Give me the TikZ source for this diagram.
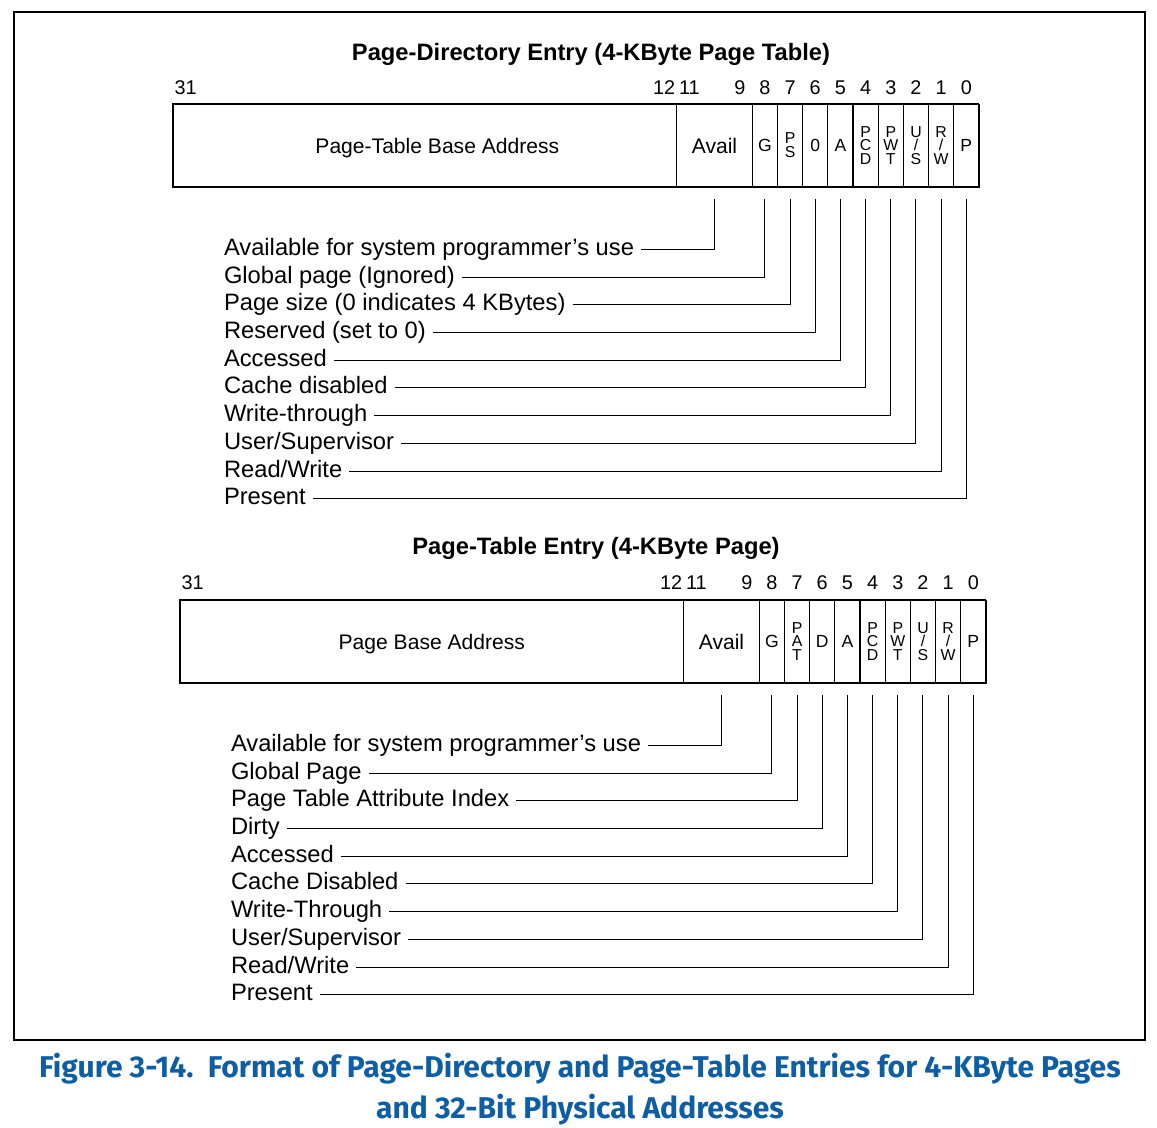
\documentclass[tikz,border=0pt]{standalone}
\usepackage{fontspec}
\setmainfont{Liberation Sans}
\newfontfamily\capfont{Fira Sans}
\usepackage{xcolor}
\usepackage{tikz}
\usetikzlibrary{positioning, calc}
\definecolor{captionblue}{RGB}{14,94,166}
\newcommand{\bw}{0.5038cm}

\begin{document}
\begin{tikzpicture}[
    x=0.02cm, y=-0.02cm,
    field/.style={draw, line width=0.6pt, minimum height=1.66cm, inner sep=0pt, outer sep=0pt, font=\fontsize{12}{14}\selectfont},
    bitcell/.style={field, minimum width=\bw, font=\fontsize{10}{12}\selectfont},
    stackcell/.style={field, minimum width=\bw, align=center, font=\fontsize{9}{7.8}\selectfont},
    rimline/.style={line width=1.1pt},
    bitnum/.style={anchor=base, font=\fontsize{11.3}{13}\selectfont},
    heading/.style={anchor=base, font=\fontsize{13.5}{16}\selectfont\bfseries},
    lbl/.style={anchor=west, font=\fontsize{13.5}{16}\selectfont, text height=7pt, text depth=0pt, inner sep=0pt, outer xsep=4pt},
    leader/.style={line width=0.6pt},
    caption/.style={anchor=base, text=captionblue, font=\capfont\bfseries\fontsize{17.1}{20}\selectfont}
]
    \useasboundingbox (0,0) rectangle (1157,1128);

    % Frame
    \draw[line width=0.7pt] (14,12) rectangle (1145,1040);
    \draw[line width=1.3pt] (14,1040) -- (1145,1040) -- (1145,12);

    % Page-directory entry
    \begin{scope}[shift={(173,104)}]
    \node[heading] (pdeTitle) at (418,-43) {Page-Directory Entry (4-KByte Page Table)};

    \node[field, text depth=0pt, minimum width=20*\bw, anchor=north west] (pdeBase) at (0,0) {\hspace{0.5cm}Page-Table Base Address};
    \node[field, minimum width=3*\bw, right=0pt of pdeBase] (pdeAvail) {Avail};
    \node[bitcell, right=0pt of pdeAvail] (pdeG) {G};
    \node[stackcell, right=0pt of pdeG] (pdePS) {P\\S};
    \node[bitcell, right=0pt of pdePS] (pdeZero) {0};
    \node[bitcell, right=0pt of pdeZero] (pdeA) {A};
    \node[stackcell, right=0pt of pdeA] (pdePCD) {P\\C\\D};
    \node[stackcell, right=0pt of pdePCD] (pdePWT) {P\\W\\T};
    \node[stackcell, right=0pt of pdePWT] (pdeUS) {U\\/\\S};
    \node[stackcell, right=0pt of pdeUS] (pdeRW) {R\\/\\W};
    \node[bitcell, right=0pt of pdeRW] (pdeP) {P};
    \draw[rimline] (pdeBase.north west) -- (pdeBase.south west) -- (pdeP.south east) -- (pdeP.north east);

    % Bit numbers
    \node[bitnum] (pdeB31) at (12.6,-9) {31};
    \node[bitnum] (pdeB12) at (491.2,-9) {12};
    \node[bitnum] (pdeB11) at (516.4,-9) {11};
    \node[bitnum] (pdeB9) at (566.8,-9) {9};
    \node[bitnum] (pdeB8) at (pdeG |- pdeB31.base) {8};
    \node[bitnum] (pdeB7) at (pdePS |- pdeB31.base) {7};
    \node[bitnum] (pdeB6) at (pdeZero |- pdeB31.base) {6};
    \node[bitnum] (pdeB5) at (pdeA |- pdeB31.base) {5};
    \node[bitnum] (pdeB4) at (pdePCD |- pdeB31.base) {4};
    \node[bitnum] (pdeB3) at (pdePWT |- pdeB31.base) {3};
    \node[bitnum] (pdeB2) at (pdeUS |- pdeB31.base) {2};
    \node[bitnum] (pdeB1) at (pdeRW |- pdeB31.base) {1};
    \node[bitnum] (pdeB0) at (pdeP |- pdeB31.base) {0};

    % Field descriptions
    \node[lbl] (pdeL1) at (44,145.5) {Available for system programmer’s use};
    \node[lbl] (pdeL2) at (44,173.5) {Global page (Ignored)};
    \node[lbl] (pdeL3) at (44,200.5) {Page size (0 indicates 4 KBytes)};
    \node[lbl] (pdeL4) at (44,228.5) {Reserved (set to 0)};
    \node[lbl] (pdeL5) at (44,256.5) {Accessed};
    \node[lbl] (pdeL6) at (44,283.5) {Cache disabled};
    \node[lbl] (pdeL7) at (44,311.5) {Write-through};
    \node[lbl] (pdeL8) at (44,339.5) {User/Supervisor};
    \node[lbl] (pdeL9) at (44,367.5) {Read/Write};
    \node[lbl] (pdeL10) at (44,394.5) {Present};

    \draw[leader] (pdeL1.east) -| ([yshift=-0.24cm]pdeAvail.south);
    \draw[leader] (pdeL2.east) -| ([yshift=-0.24cm]pdeG.south);
    \draw[leader] (pdeL3.east) -| ([yshift=-0.24cm]pdePS.south);
    \draw[leader] (pdeL4.east) -| ([yshift=-0.24cm]pdeZero.south);
    \draw[leader] (pdeL5.east) -| ([yshift=-0.24cm]pdeA.south);
    \draw[leader] (pdeL6.east) -| ([yshift=-0.24cm]pdePCD.south);
    \draw[leader] (pdeL7.east) -| ([yshift=-0.24cm]pdePWT.south);
    \draw[leader] (pdeL8.east) -| ([yshift=-0.24cm]pdeUS.south);
    \draw[leader] (pdeL9.east) -| ([yshift=-0.24cm]pdeRW.south);
    \draw[leader] (pdeL10.east) -| ([yshift=-0.24cm]pdeP.south);
    \end{scope}

    % Page-table entry
    \begin{scope}[shift={(180,600)}]
    \node[heading] (pteTitle) at (416,-45) {Page-Table Entry (4-KByte Page)};

    \node[field, text depth=0pt, minimum width=20*\bw, anchor=north west] (pteBase) at (0,0) {Page Base Address};
    \node[field, minimum width=3*\bw, right=0pt of pteBase] (pteAvail) {Avail};
    \node[bitcell, right=0pt of pteAvail] (pteG) {G};
    \node[stackcell, right=0pt of pteG] (ptePAT) {P\\A\\T};
    \node[bitcell, right=0pt of ptePAT] (pteD) {D};
    \node[bitcell, right=0pt of pteD] (pteA) {A};
    \node[stackcell, right=0pt of pteA] (ptePCD) {P\\C\\D};
    \node[stackcell, right=0pt of ptePCD] (ptePWT) {P\\W\\T};
    \node[stackcell, right=0pt of ptePWT] (pteUS) {U\\/\\S};
    \node[stackcell, right=0pt of pteUS] (pteRW) {R\\/\\W};
    \node[bitcell, right=0pt of pteRW] (pteP) {P};
    \draw[rimline] (pteBase.north west) -- (pteBase.south west) -- (pteP.south east) -- (pteP.north east);

    % Bit numbers
    \node[bitnum] (pteB31) at (12.6,-10) {31};
    \node[bitnum] (pteB12) at (491.2,-10) {12};
    \node[bitnum] (pteB11) at (516.4,-10) {11};
    \node[bitnum] (pteB9) at (566.8,-10) {9};
    \node[bitnum] (pteB8) at (pteG |- pteB31.base) {8};
    \node[bitnum] (pteB7) at (ptePAT |- pteB31.base) {7};
    \node[bitnum] (pteB6) at (pteD |- pteB31.base) {6};
    \node[bitnum] (pteB5) at (pteA |- pteB31.base) {5};
    \node[bitnum] (pteB4) at (ptePCD |- pteB31.base) {4};
    \node[bitnum] (pteB3) at (ptePWT |- pteB31.base) {3};
    \node[bitnum] (pteB2) at (pteUS |- pteB31.base) {2};
    \node[bitnum] (pteB1) at (pteRW |- pteB31.base) {1};
    \node[bitnum] (pteB0) at (pteP |- pteB31.base) {0};

    % Field descriptions
    \node[lbl] (pteL1) at (44,145.5) {Available for system programmer’s use};
    \node[lbl] (pteL2) at (44,173.5) {Global Page};
    \node[lbl] (pteL3) at (44,200.5) {Page Table Attribute Index};
    \node[lbl] (pteL4) at (44,228.5) {Dirty};
    \node[lbl] (pteL5) at (44,256.5) {Accessed};
    \node[lbl] (pteL6) at (44,283.5) {Cache Disabled};
    \node[lbl] (pteL7) at (44,311.5) {Write-Through};
    \node[lbl] (pteL8) at (44,339.5) {User/Supervisor};
    \node[lbl] (pteL9) at (44,367.5) {Read/Write};
    \node[lbl] (pteL10) at (44,394.5) {Present};

    \draw[leader] (pteL1.east) -| ([yshift=-0.24cm]pteAvail.south);
    \draw[leader] (pteL2.east) -| ([yshift=-0.24cm]pteG.south);
    \draw[leader] (pteL3.east) -| ([yshift=-0.24cm]ptePAT.south);
    \draw[leader] (pteL4.east) -| ([yshift=-0.24cm]pteD.south);
    \draw[leader] (pteL5.east) -| ([yshift=-0.24cm]pteA.south);
    \draw[leader] (pteL6.east) -| ([yshift=-0.24cm]ptePCD.south);
    \draw[leader] (pteL7.east) -| ([yshift=-0.24cm]ptePWT.south);
    \draw[leader] (pteL8.east) -| ([yshift=-0.24cm]pteUS.south);
    \draw[leader] (pteL9.east) -| ([yshift=-0.24cm]pteRW.south);
    \draw[leader] (pteL10.east) -| ([yshift=-0.24cm]pteP.south);
    \end{scope}

    % Caption
    \node[caption] (capA) at (580,1077) {Figure 3-14.\ \ Format of Page-Directory and Page-Table Entries for 4-KByte Pages};
    \node[caption] (capB) at (580,1118) {and 32-Bit Physical Addresses};
\end{tikzpicture}
\end{document}
